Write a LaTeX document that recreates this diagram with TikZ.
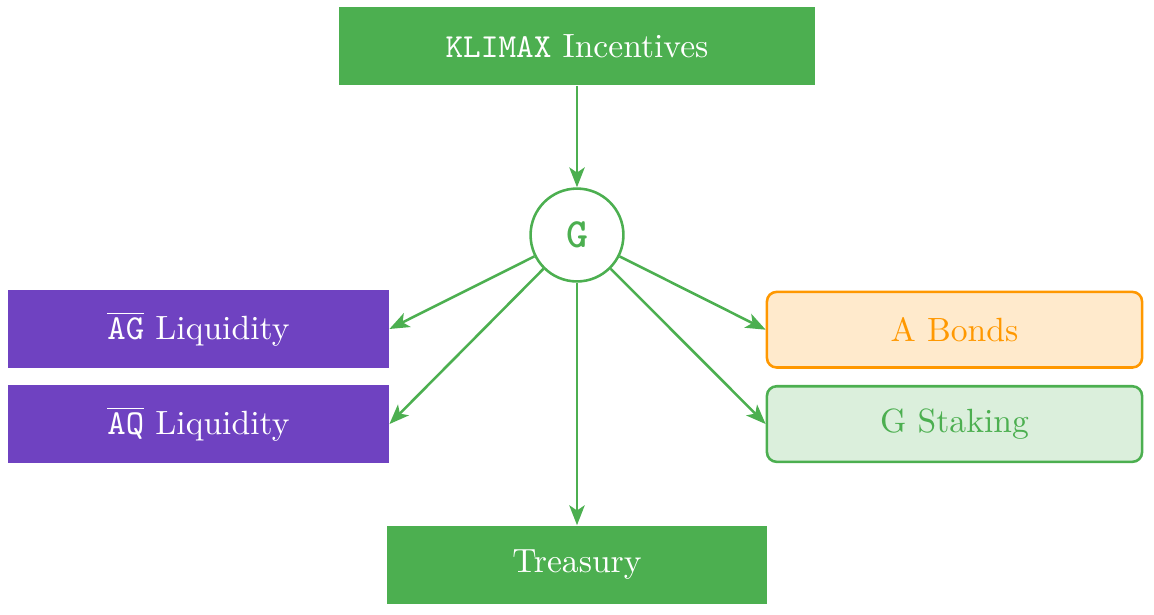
\documentclass[tikz,border=0pt]{standalone}
\usetikzlibrary{positioning,arrows.meta}

\definecolor{kgreen}{HTML}{4CAF50}
\definecolor{kpurple}{HTML}{6F42C1}
\definecolor{korange}{HTML}{FF9800}

\begin{document}
\begin{tikzpicture}[font=\fontsize{10.5}{12.6}\selectfont,
        solidbox/.style={rectangle,fill=#1,text=white,minimum width=4.18cm,minimum height=0.86cm},
        softbox/.style={rectangle,rounded corners=3pt,draw=#1,line width=0.8pt,fill=#1!20,text=#1,minimum width=4.12cm,minimum height=0.83cm},
        flow/.style={-{Stealth[length=6.2pt,width=4.8pt,inset=1.6pt]},kgreen,line width=0.8pt}]
            \useasboundingbox (-6.337,-4.163) rectangle (6.337,2.581);

            \node[solidbox=kgreen,minimum width=5.22cm] (incentives) at (0,2.076) {\texttt{KLIMAX} Incentives};

            \node[circle,draw=kgreen,line width=0.8pt,text=kgreen,minimum size=1.02cm,inner sep=0pt] (g) at (0,0) {\fontsize{13}{15}\selectfont\ttfamily\bfseries G};

            \node[solidbox=kpurple] (agliq) at (-4.157,-1.032) {$\overline{\mathtt{AG}}$ Liquidity};
            \node[solidbox=kpurple] (aqliq) at (-4.157,-2.076) {$\overline{\mathtt{AQ}}$ Liquidity};

            \node[softbox=korange] (bonds) at (4.146,-1.04) {A Bonds};
            \node[softbox=kgreen] (staking) at (4.146,-2.076) {G Staking};

            \node[solidbox=kgreen] (treasury) at (0,-3.624) {Treasury};

            \draw[flow] (incentives) -- (g);
            \draw[flow] (g) -- (agliq.east);
            \draw[flow] (g) -- (aqliq.east);
            \draw[flow] (g) -- (bonds.west);
            \draw[flow] (g) -- (staking.west);
            \draw[flow] (g) -- (treasury);
        \end{tikzpicture}
\end{document}
